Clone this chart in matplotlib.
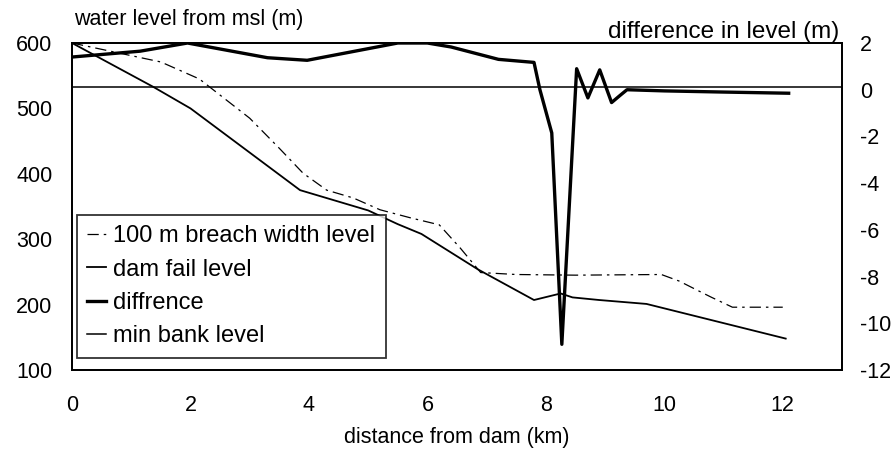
import matplotlib.pyplot as plt

plt.rcParams['font.family'] = ['Liberation Sans', 'DejaVu Sans']
plt.rcParams['axes.unicode_minus'] = False

# 100 m breach width level (left axis)
dist_breach = [0, 1.5, 2.15, 3.0, 3.5, 3.9, 4.3, 4.75, 5.2, 5.7, 6.2, 6.55, 6.9,
               7.5, 8.5, 9.95, 10.25, 10.6, 10.8, 11.15, 12.0]
breach_level = [600, 571, 545, 485, 439, 401, 375, 363, 345, 333, 322, 287, 249,
                246, 245, 246, 236, 220, 211, 196, 196]

# dam fail level (left axis)
dist_fail = [0, 1.37, 2.0, 3.85, 5.0, 5.5, 5.9, 6.85, 7.8, 8.25, 8.45, 8.9, 9.7, 12.05]
fail_level = [600, 533, 500, 375, 344, 323, 308, 254, 207, 217, 211, 207, 201, 148]

# difference (right axis)
dist_diff = [0, 1.15, 1.95, 3.3, 3.97, 5.5, 6.0, 6.4, 7.2, 7.8, 7.9, 8.1, 8.27,
             8.52, 8.71, 8.91, 9.11, 9.25, 9.37, 10, 11, 12.1]
diff_level = [1.4, 1.65, 2.0, 1.37, 1.26, 2.0, 2.0, 1.83, 1.3, 1.17, 0.0, -1.85, -10.9,
              0.9, -0.35, 0.85, -0.55, -0.25, 0.0, -0.05, -0.1, -0.15]

# min bank level (left axis)
dist_bank = [0, 13]
bank_level = [533, 533]

fs = 15.5

fig = plt.figure(figsize=(8.96, 4.63), dpi=100)
ax = fig.add_axes([0.0804, 0.2009, 0.8593, 0.7062])
ax2 = ax.twinx()

l1, = ax.plot(dist_breach, breach_level, color='black', lw=0.9,
              dashes=(9, 4, 2, 4), label='100 m breach width level')
l2, = ax.plot(dist_fail, fail_level, color='black', lw=1.3, label='dam fail level')
l4, = ax.plot(dist_bank, bank_level, color='black', lw=1.1, label='min bank level')
l3, = ax2.plot(dist_diff, diff_level, color='black', lw=2.4, label='diffrence')

ax.set_xlim(0, 13)
ax.set_ylim(100, 600)
ax2.set_ylim(-12, 2)
ax.set_xticks(range(0, 13, 2))
ax.set_yticks(range(100, 601, 100))
ax2.set_yticks(range(-12, 3, 2))

ax.tick_params(axis='x', length=0, pad=18, labelsize=fs)
ax.tick_params(axis='y', length=0, pad=14, labelsize=fs)
ax2.tick_params(axis='y', length=0, pad=13, labelsize=fs)

for a in (ax, ax2):
    for s in a.spines.values():
        s.set_linewidth(1.3)
        s.set_color('black')

ax.set_xlabel('distance from dam (km)', fontsize=fs, labelpad=8)
fig.text(0.083, 0.957, 'water level from msl (m)', fontsize=fs, ha='left', va='center')
fig.text(0.937, 0.93, 'difference in level (m)', fontsize=17.5, ha='right', va='center')

leg = ax2.legend(handles=[l1, l2, l3, l4], loc='lower left',
                 bbox_to_anchor=(0.006, 0.037), borderaxespad=0, fontsize=17,
                 frameon=True, fancybox=False, edgecolor='black',
                 handlelength=0.8, handletextpad=0.3, labelspacing=0.48,
                 borderpad=0.45)
leg.get_frame().set_linewidth(1.3)

fig.savefig('out.png', dpi=100)
